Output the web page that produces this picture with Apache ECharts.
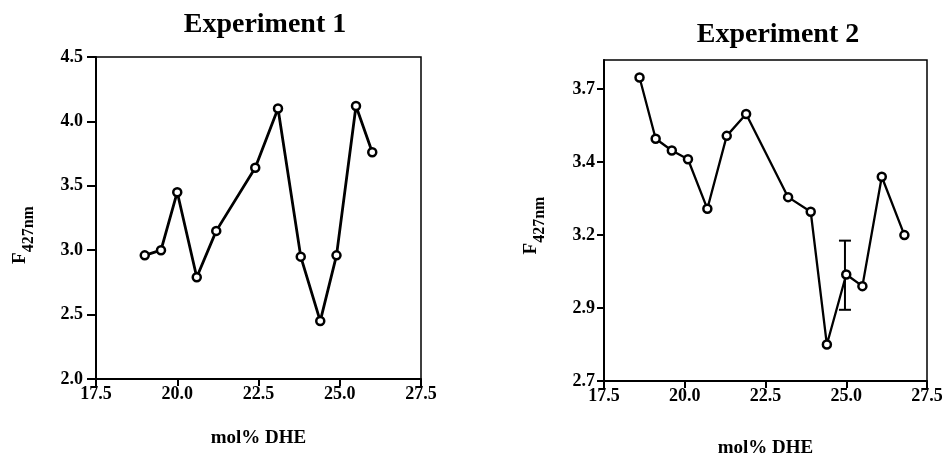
<!DOCTYPE html>
<html>
<head>
<meta charset="utf-8">
<script src="https://cdn.jsdelivr.net/npm/echarts@6/dist/echarts.min.js"></script>
<style>
html,body{margin:0;padding:0;background:#fff;}
#chart{width:947px;height:453px;}
</style>
</head>
<body>
<div id="chart"></div>
<script>
// ---- Data ----
const TITLES = ['Experiment 1', 'Experiment 2'];
const X_NAME = 'mol% DHE';

const exp1X = [19.0, 19.5, 20.0, 20.6, 21.2, 22.4, 23.1, 23.8, 24.4, 24.9, 25.5, 26.0];
const exp1Y = [2.96, 3.00, 3.45, 2.79, 3.15, 3.64, 4.10, 2.95, 2.45, 2.96, 4.12, 3.76];

const exp2X = [18.6, 19.1, 19.6, 20.1, 20.7, 21.3, 21.9, 23.2, 23.9, 24.4, 25.0, 25.5, 26.1, 26.8];
const exp2Y = [3.74, 3.53, 3.49, 3.46, 3.29, 3.54, 3.615, 3.33, 3.28, 2.825, 3.065, 3.025, 3.40, 3.20];

// error bar on Experiment 2: [x, low, high]
const exp2Err = [[24.96, 2.944, 3.181]];

const X_TICKS = [17.5, 20.0, 22.5, 25.0, 27.5];
const Y1_TICKS = [2.0, 2.5, 3.0, 3.5, 4.0, 4.5];
const Y2_TICK_VALUES = [2.7, 2.95, 3.2, 3.45, 3.7];
const Y2_TICK_LABELS = ['2.7', '2.9', '3.2', '3.4', '3.7'];

// ---- Chart ----
const FONT = "'Liberation Serif', 'Times New Roman', serif";
const chart = echarts.init(document.getElementById('chart'), null, {renderer: 'canvas'});

const itemStyle = {color: '#fff', borderColor: '#000', borderWidth: 2.5};
const axisLabelBase = {color: '#000', fontFamily: FONT, fontWeight: 'bold', fontSize: 18};

function zip(xs, ys) { return xs.map((x, i) => [x, ys[i]]); }

function xAxisCfg(gridIndex, gap) {
  return {
    type: 'value', gridIndex: gridIndex,
    min: X_TICKS[0], max: X_TICKS[X_TICKS.length - 1], interval: 2.5,
    name: X_NAME, nameLocation: 'middle', nameGap: gap,
    nameTextStyle: {color: '#000', fontFamily: FONT, fontWeight: 'bold', fontSize: 19},
    axisLine: {show: true, lineStyle: {color: '#000', width: 2}},
    axisTick: {show: true, inside: false, length: 7, lineStyle: {color: '#000', width: 2}},
    axisLabel: Object.assign({}, axisLabelBase, {margin: 6, formatter: v => v.toFixed(1)}),
    splitLine: {show: false}
  };
}

function yNameRich() {
  return {
    a: {fontFamily: FONT, fontWeight: 'bold', fontSize: 19, color: '#000', lineHeight: 20, verticalAlign: 'top'},
    b: {fontFamily: FONT, fontWeight: 'bold', fontSize: 16, color: '#000', lineHeight: 26, verticalAlign: 'bottom'}
  };
}

const option = {
  backgroundColor: '#fff',
  animation: false,
  title: [
    {text: TITLES[0], left: 265, top: 11, textAlign: 'center', padding: 0,
     textStyle: {fontFamily: FONT, fontWeight: 'bold', fontSize: 28, color: '#000'}},
    {text: TITLES[1], left: 778, top: 21, textAlign: 'center', padding: 0,
     textStyle: {fontFamily: FONT, fontWeight: 'bold', fontSize: 28, color: '#000'}}
  ],
  grid: [
    {left: 96, top: 57, width: 325, height: 322, show: true, borderColor: '#000', borderWidth: 1.5,
     containLabel: false, outerBoundsMode: 'none'},
    {left: 604, top: 60, width: 323, height: 321, show: true, borderColor: '#000', borderWidth: 1.5,
     containLabel: false, outerBoundsMode: 'none'}
  ],
  xAxis: [xAxisCfg(0, 50), xAxisCfg(1, 58)],
  yAxis: [
    {
      type: 'value', gridIndex: 0,
      min: Y1_TICKS[0], max: Y1_TICKS[Y1_TICKS.length - 1], interval: 0.5,
      name: '{a|F}{b|427nm}', nameLocation: 'middle', nameGap: 59,
      nameTextStyle: {rich: yNameRich(), padding: [0, 34, 0, 0]},
      axisLine: {show: true, lineStyle: {color: '#000', width: 2}},
      axisTick: {show: true, length: 9, lineStyle: {color: '#000', width: 2}},
      axisLabel: Object.assign({}, axisLabelBase, {margin: 13, formatter: v => v.toFixed(1)}),
      splitLine: {show: false}
    },
    {
      type: 'value', gridIndex: 1,
      min: 2.7, max: 3.8,
      name: '{a|F}{b|427nm}', nameLocation: 'middle', nameGap: 56,
      nameTextStyle: {rich: yNameRich(), padding: [0, 10, 0, 0]},
      axisLine: {show: true, lineStyle: {color: '#000', width: 2}},
      axisTick: {show: true, length: 7, customValues: Y2_TICK_VALUES, lineStyle: {color: '#000', width: 2}},
      axisLabel: Object.assign({}, axisLabelBase, {
        margin: 9, customValues: Y2_TICK_VALUES,
        formatter: v => {
          let best = 0, d = Infinity;
          Y2_TICK_VALUES.forEach((t, i) => { const dd = Math.abs(t - v); if (dd < d) { d = dd; best = i; } });
          return d < 1e-6 ? Y2_TICK_LABELS[best] : '';
        }
      }),
      splitLine: {show: false}
    }
  ],
  series: [
    {
      type: 'line', xAxisIndex: 0, yAxisIndex: 0, z: 3,
      data: zip(exp1X, exp1Y),
      symbol: 'circle', symbolSize: 8,
      lineStyle: {color: '#000', width: 2.8}, itemStyle: itemStyle
    },
    {
      type: 'custom', xAxisIndex: 1, yAxisIndex: 1, z: 2,
      data: exp2Err,
      renderItem: function (params, api) {
        const x = api.value(0);
        const lo = api.coord([x, api.value(1)]);
        const hi = api.coord([x, api.value(2)]);
        const cap = 6;
        const st = {stroke: '#000', lineWidth: 2};
        return {
          type: 'group',
          children: [
            {type: 'line', shape: {x1: lo[0], y1: lo[1], x2: hi[0], y2: hi[1]}, style: st},
            {type: 'line', shape: {x1: hi[0] - cap, y1: hi[1], x2: hi[0] + cap, y2: hi[1]}, style: st},
            {type: 'line', shape: {x1: lo[0] - cap, y1: lo[1], x2: lo[0] + cap, y2: lo[1]}, style: st}
          ]
        };
      }
    },
    {
      type: 'line', xAxisIndex: 1, yAxisIndex: 1, z: 3,
      data: zip(exp2X, exp2Y),
      symbol: 'circle', symbolSize: 8,
      lineStyle: {color: '#000', width: 2.3}, itemStyle: itemStyle
    }
  ]
};
chart.setOption(option);
</script>
</body>
</html>
